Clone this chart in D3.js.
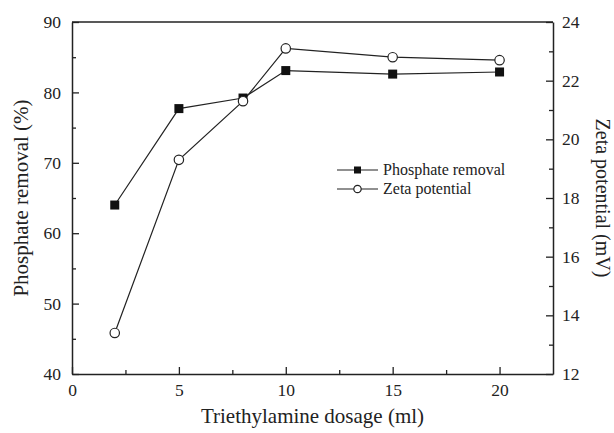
<!DOCTYPE html>
<html>
<head>
<meta charset="utf-8">
<script src="https://cdn.jsdelivr.net/npm/d3@7"></script>
<style>
  body { margin: 0; background: #fff; }
  svg text { font-family: "Liberation Serif", "Times New Roman", serif; }
</style>
</head>
<body>
<svg id="chart" width="614" height="433"></svg>
<script>
const dosage = [2, 5, 8, 10, 15, 20];
const phosphate = [64.0, 77.7, 79.2, 83.1, 82.6, 82.9];
const zeta = [13.4, 19.3, 21.3, 23.1, 22.8, 22.7];
const xTicks = [0, 5, 10, 15, 20];
const leftTicks = [40, 50, 60, 70, 80, 90];
const rightTicks = [12, 14, 16, 18, 20, 22, 24];

const svg = d3.select('#chart');
const margin = { top: 22, right: 61, bottom: 59, left: 72 };
const width = +svg.attr('width');
const height = +svg.attr('height');
const innerWidth = width - margin.left - margin.right;
const innerHeight = height - margin.top - margin.bottom;

const x = d3.scaleLinear().domain([0, 22.5]).range([0, innerWidth]);
const yL = d3.scaleLinear().domain([40, 90]).range([innerHeight, 0]);
const yR = d3.scaleLinear().domain([12, 24]).range([innerHeight, 0]);

const g = svg.append('g')
  .attr('transform', `translate(${margin.left},${margin.top})`);

const ink = '#222';

// minor ticks, pointing inward
function minor(axisGen, sel) {
  sel.call(axisGen).call(a => a.select('.domain').remove())
    .call(a => a.selectAll('text').remove())
    .call(a => a.selectAll('line').attr('stroke', ink).attr('stroke-width', 1.3));
}
minor(d3.axisBottom(x).tickValues(d3.range(2.5, 22.5, 5)).tickSize(-4),
  g.append('g').attr('transform', `translate(0,${innerHeight})`));
minor(d3.axisLeft(yL).tickValues(d3.range(45, 90, 10)).tickSize(-4), g.append('g'));
minor(d3.axisRight(yR).tickValues(d3.range(13, 24, 2)).tickSize(-4),
  g.append('g').attr('transform', `translate(${innerWidth},0)`));

function style(a) {
  a.attr('font-family', null).attr('font-size', null);
  a.select('.domain').attr('stroke', ink).attr('stroke-width', 1.5);
  a.selectAll('line').attr('stroke', ink).attr('stroke-width', 1.3);
  a.selectAll('text').style('font-size', '17.5px').attr('fill', '#222');
}
g.append('g')
  .attr('transform', `translate(0,${innerHeight})`)
  .call(d3.axisBottom(x).tickValues(xTicks).tickSize(-7).tickSizeOuter(0).tickPadding(10))
  .call(style);

g.append('g')
  .call(d3.axisLeft(yL).tickValues(leftTicks).tickSize(-7).tickSizeOuter(0).tickPadding(11))
  .call(style);

g.append('g')
  .attr('transform', `translate(${innerWidth},0)`)
  .call(d3.axisRight(yR).tickValues(rightTicks).tickSize(-7).tickSizeOuter(0).tickPadding(9))
  .call(style);

// top frame line
g.append('line')
  .attr('x1', 0).attr('x2', innerWidth).attr('y1', 0).attr('y2', 0)
  .attr('stroke', ink).attr('stroke-width', 1.5);

const lineL = d3.line().x((d, i) => x(dosage[i])).y(d => yL(d));
const lineR = d3.line().x((d, i) => x(dosage[i])).y(d => yR(d));

g.append('path').datum(phosphate)
  .attr('fill', 'none').attr('stroke', ink).attr('stroke-width', 1.2).attr('d', lineL);
g.append('path').datum(zeta)
  .attr('fill', 'none').attr('stroke', ink).attr('stroke-width', 1.2).attr('d', lineR);

g.selectAll('rect.pr').data(phosphate).join('rect')
  .attr('class', 'pr')
  .attr('x', (d, i) => x(dosage[i]) - 4.5)
  .attr('y', d => yL(d) - 4.5)
  .attr('width', 9).attr('height', 9)
  .attr('fill', '#111');

g.selectAll('circle.zp').data(zeta).join('circle')
  .attr('class', 'zp')
  .attr('cx', (d, i) => x(dosage[i]))
  .attr('cy', d => yR(d))
  .attr('r', 4.7)
  .attr('fill', '#fff').attr('stroke', ink).attr('stroke-width', 1.2);

// legend
const legend = svg.append('g').attr('transform', 'translate(337,170)');
const items = ['Phosphate removal', 'Zeta potential'];
items.forEach((name, i) => {
  const row = legend.append('g').attr('transform', `translate(0,${i * 19})`);
  row.append('line').attr('x1', 0).attr('x2', 41).attr('stroke', ink).attr('stroke-width', 1.2);
  if (i === 0) {
    row.append('rect').attr('x', 17).attr('y', -3.5).attr('width', 7).attr('height', 7).attr('fill', '#111');
  } else {
    row.append('circle').attr('cx', 20.5).attr('r', 3.7).attr('fill', '#fff')
      .attr('stroke', ink).attr('stroke-width', 1.2);
  }
  row.append('text').attr('x', 46).attr('dy', '0.33em')
    .style('font-size', '16px').attr('fill', '#222')
    .text(name);
});

// axis titles
svg.append('text')
  .attr('x', margin.left + x(11.25)).attr('y', 423)
  .attr('text-anchor', 'middle')
  .style('font-size', '21px').attr('fill', '#222')
  .text('Triethylamine dosage (ml)');

svg.append('text')
  .attr('transform', `translate(28,${margin.top + innerHeight / 2}) rotate(-90)`)
  .attr('text-anchor', 'middle')
  .style('font-size', '21px').attr('fill', '#222')
  .text('Phosphate removal (%)');

svg.append('text')
  .attr('transform', `translate(596,${margin.top + innerHeight / 2}) rotate(90)`)
  .attr('text-anchor', 'middle')
  .style('font-size', '20px').attr('fill', '#222')
  .text('Zeta potential (mV)');
</script>
</body>
</html>
